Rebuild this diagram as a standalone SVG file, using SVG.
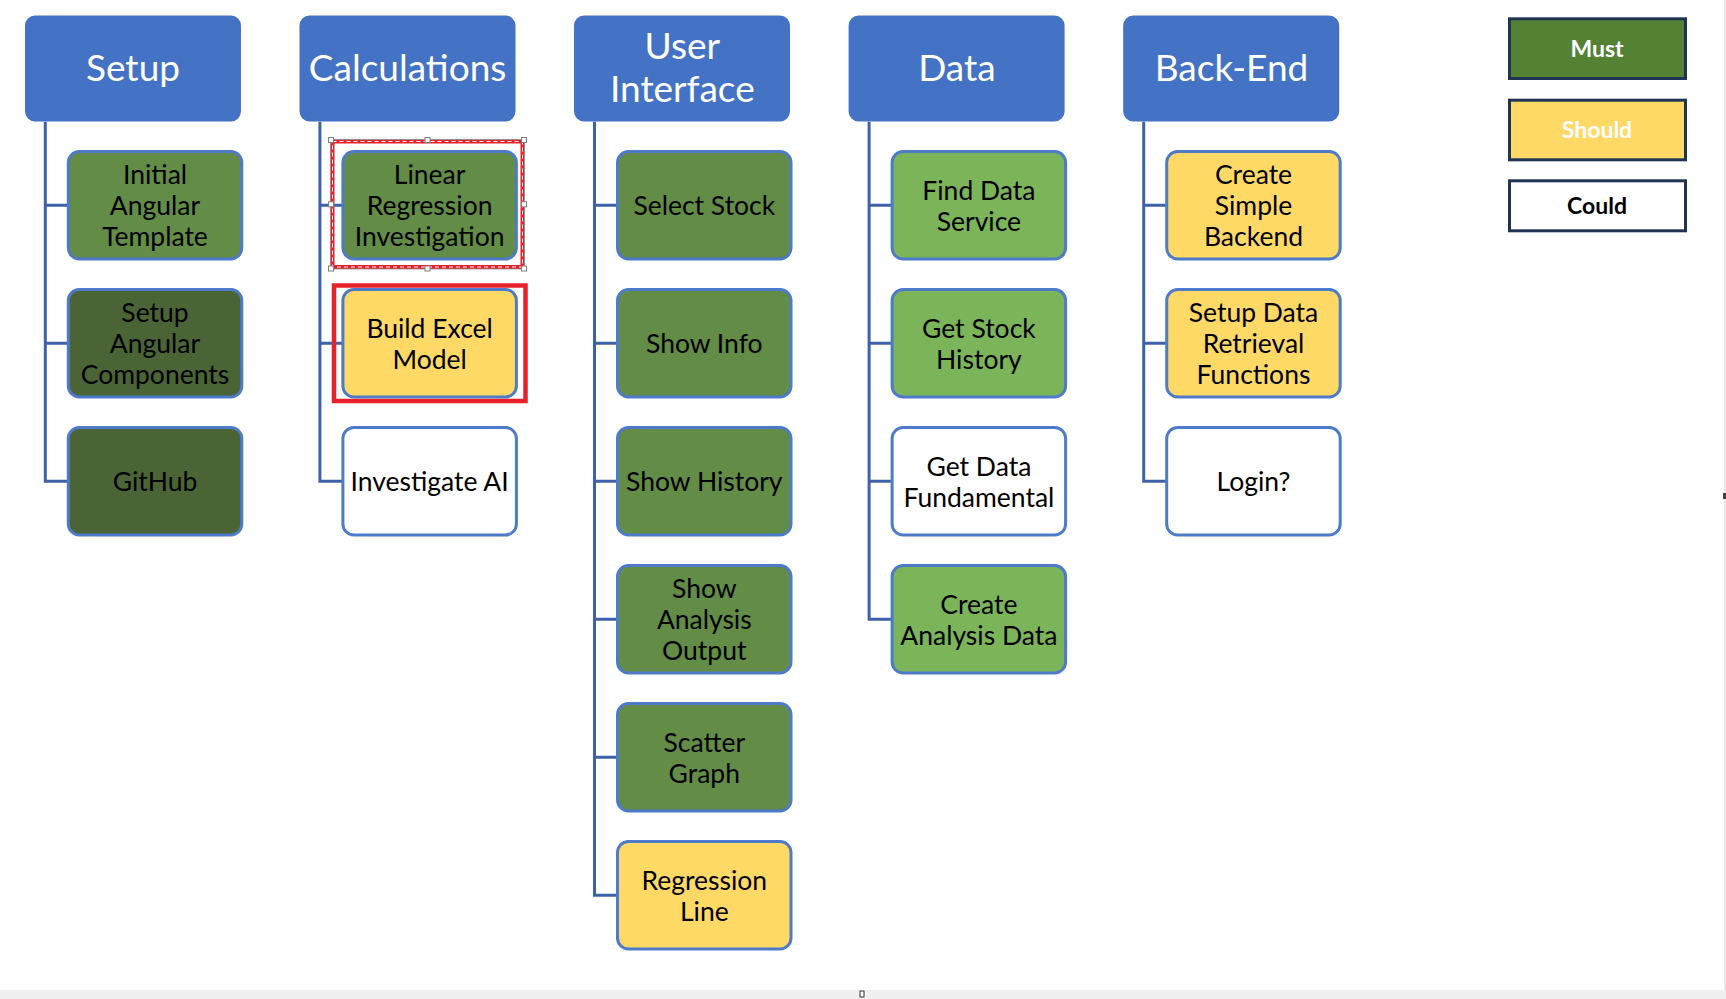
<svg xmlns="http://www.w3.org/2000/svg" width="1726" height="999" viewBox="0 0 1726 999">
<style>
.hdr{fill:#4472C4;}
.htx{font-family:Lato,"Liberation Sans",sans-serif;font-size:37px;fill:#FFFFFF;text-anchor:middle;}
.box{stroke:#4D7BC9;stroke-width:3;}
.mg{fill:#638C46;}
.dg{fill:#4B6436;}
.lg{fill:#7CB45A;}
.yl{fill:#FFD966;}
.wh{fill:#FFFFFF;}
.ctx{font-family:Lato,"Liberation Sans",sans-serif;font-size:26.5px;fill:#000000;text-anchor:middle;}
.con{fill:none;stroke:#3D62AA;stroke-width:3;}
.leg{stroke:#1F3455;stroke-width:3;}
.ltx{font-family:Lato,"Liberation Sans",sans-serif;font-size:23px;font-weight:bold;text-anchor:middle;}
.hdl{fill:#FFFFFF;stroke:#7F7F7F;stroke-width:1;}
</style>
<rect x="0" y="0" width="1726" height="999" fill="#FFFFFF"/>
<rect x="0" y="990" width="1726" height="9" fill="#F0F0F0"/>
<rect x="1724" y="0" width="2" height="990" fill="#E6E6E6"/>
<rect x="1723" y="493" width="3" height="6" fill="#444444"/>
<rect x="860" y="991" width="4" height="6" fill="#FFFFFF" stroke="#333333" stroke-width="1"/>

<g id="connectors">
<path class="con" d="M45.3,121.7 V481.3 H68 M45.3,205.3 H68 M45.3,343.3 H68"/>
<path class="con" d="M319.9,121.7 V481.3 H343 M319.9,205.3 H343 M319.9,343.3 H343"/>
<path class="con" d="M594.5,121.7 V895.3 H617 M594.5,205.3 H617 M594.5,343.3 H617 M594.5,481.3 H617 M594.5,619.3 H617 M594.5,757.3 H617"/>
<path class="con" d="M869.1,121.7 V619.3 H892 M869.1,205.3 H892 M869.1,343.3 H892 M869.1,481.3 H892"/>
<path class="con" d="M1143.7,121.7 V481.3 H1166 M1143.7,205.3 H1166 M1143.7,343.3 H1166"/>
</g>

<g id="hdr-setup"><rect class="hdr" x="25" y="15.5" width="216" height="106" rx="10"/><text class="htx" x="133" y="80.5">Setup</text></g>
<g id="hdr-calc"><rect class="hdr" x="299.5" y="15.5" width="216" height="106" rx="10"/><text class="htx" x="407.6" y="80.5">Calculations</text></g>
<g id="hdr-ui"><rect class="hdr" x="574" y="15.5" width="216" height="106" rx="10"/><text class="htx" x="682.3" y="58.5">User</text><text class="htx" x="682.3" y="101.5">Interface</text></g>
<g id="hdr-data"><rect class="hdr" x="848.6" y="15.5" width="216" height="106" rx="10"/><text class="htx" x="956.9" y="80.5">Data</text></g>
<g id="hdr-backend"><rect class="hdr" x="1123.2" y="15.5" width="216" height="106" rx="10"/><text class="htx" x="1231.5" y="80.5">Back-End</text></g>

<!-- Setup -->
<g id="n-initial"><rect class="box mg" x="68.3" y="151.5" width="173.5" height="107.5" rx="11"/><text class="ctx" x="155" y="183.5">Initial</text><text class="ctx" x="155" y="214.8">Angular</text><text class="ctx" x="155" y="246.1">Template</text></g>
<g id="n-setupang"><rect class="box dg" x="68.3" y="289.5" width="173.5" height="107.5" rx="11"/><text class="ctx" x="155" y="321.5">Setup</text><text class="ctx" x="155" y="352.8">Angular</text><text class="ctx" x="155" y="384.1">Components</text></g>
<g id="n-github"><rect class="box dg" x="68.3" y="427.5" width="173.5" height="107.5" rx="11"/><text class="ctx" x="155" y="490.8">GitHub</text></g>

<!-- Calculations -->
<g id="n-linreg"><rect class="box mg" x="342.9" y="151.5" width="173.5" height="107.5" rx="11"/><text class="ctx" x="429.6" y="183.5">Linear</text><text class="ctx" x="429.6" y="214.8">Regression</text><text class="ctx" x="429.6" y="246.1">Investigation</text></g>
<g id="n-excel"><rect class="box yl" x="342.9" y="289.5" width="173.5" height="107.5" rx="11"/><text class="ctx" x="429.6" y="337.5">Build Excel</text><text class="ctx" x="429.6" y="368.8">Model</text></g>
<g id="n-ai"><rect class="box wh" x="342.9" y="427.5" width="173.5" height="107.5" rx="11"/><text class="ctx" x="429.6" y="490.8">Investigate AI</text></g>

<!-- User Interface -->
<g id="n-select"><rect class="box mg" x="617.5" y="151.5" width="173.5" height="107.5" rx="11"/><text class="ctx" x="704.3" y="214.8">Select Stock</text></g>
<g id="n-info"><rect class="box mg" x="617.5" y="289.5" width="173.5" height="107.5" rx="11"/><text class="ctx" x="704.3" y="352.8">Show Info</text></g>
<g id="n-history"><rect class="box mg" x="617.5" y="427.5" width="173.5" height="107.5" rx="11"/><text class="ctx" x="704.3" y="490.8">Show History</text></g>
<g id="n-analysis"><rect class="box mg" x="617.5" y="565.5" width="173.5" height="107.5" rx="11"/><text class="ctx" x="704.3" y="597.5">Show</text><text class="ctx" x="704.3" y="628.8">Analysis</text><text class="ctx" x="704.3" y="660.1">Output</text></g>
<g id="n-scatter"><rect class="box mg" x="617.5" y="703.5" width="173.5" height="107.5" rx="11"/><text class="ctx" x="704.3" y="751.5">Scatter</text><text class="ctx" x="704.3" y="782.8">Graph</text></g>
<g id="n-regline"><rect class="box yl" x="617.5" y="841.5" width="173.5" height="107.5" rx="11"/><text class="ctx" x="704.3" y="889.5">Regression</text><text class="ctx" x="704.3" y="920.8">Line</text></g>

<!-- Data -->
<g id="n-finddata"><rect class="box lg" x="892.1" y="151.5" width="173.5" height="107.5" rx="11"/><text class="ctx" x="978.9" y="199.5">Find Data</text><text class="ctx" x="978.9" y="230.8">Service</text></g>
<g id="n-stockhist"><rect class="box lg" x="892.1" y="289.5" width="173.5" height="107.5" rx="11"/><text class="ctx" x="978.9" y="337.5">Get Stock</text><text class="ctx" x="978.9" y="368.8">History</text></g>
<g id="n-fund"><rect class="box wh" x="892.1" y="427.5" width="173.5" height="107.5" rx="11"/><text class="ctx" x="978.9" y="475.5">Get Data</text><text class="ctx" x="978.9" y="506.8">Fundamental</text></g>
<g id="n-createan"><rect class="box lg" x="892.1" y="565.5" width="173.5" height="107.5" rx="11"/><text class="ctx" x="978.9" y="613.5">Create</text><text class="ctx" x="978.9" y="644.8">Analysis Data</text></g>

<!-- Back-End -->
<g id="n-simple"><rect class="box yl" x="1166.7" y="151.5" width="173.5" height="107.5" rx="11"/><text class="ctx" x="1253.5" y="183.5">Create</text><text class="ctx" x="1253.5" y="214.8">Simple</text><text class="ctx" x="1253.5" y="246.1">Backend</text></g>
<g id="n-retrieval"><rect class="box yl" x="1166.7" y="289.5" width="173.5" height="107.5" rx="11"/><text class="ctx" x="1253.5" y="321.5">Setup Data</text><text class="ctx" x="1253.5" y="352.8">Retrieval</text><text class="ctx" x="1253.5" y="384.1">Functions</text></g>
<g id="n-login"><rect class="box wh" x="1166.7" y="427.5" width="173.5" height="107.5" rx="11"/><text class="ctx" x="1253.5" y="490.8">Login?</text></g>

<!-- highlight boxes -->
<g id="sel-linreg">
<rect x="332.5" y="141.5" width="190" height="125.5" fill="none" stroke="#E8202A" stroke-width="4"/>
<rect x="332.5" y="141.5" width="190" height="125.5" fill="none" stroke="#FFFFFF" stroke-width="1" stroke-dasharray="4 3"/>
<rect x="330.5" y="139.5" width="194" height="129.5" fill="none" stroke="#8C8C8C" stroke-width="0.8"/>
<rect class="hdl" x="328.5" y="137.5" width="5" height="5"/>
<rect class="hdl" x="425" y="137.5" width="5" height="5"/>
<rect class="hdl" x="521.5" y="137.5" width="5" height="5"/>
<rect class="hdl" x="328.5" y="201.8" width="5" height="5"/>
<rect class="hdl" x="521.5" y="201.8" width="5" height="5"/>
<rect class="hdl" x="328.5" y="266" width="5" height="5"/>
<rect class="hdl" x="425" y="266" width="5" height="5"/>
<rect class="hdl" x="521.5" y="266" width="5" height="5"/>
</g>
<g id="hl-excel"><rect x="334" y="285.5" width="191.5" height="115.5" fill="none" stroke="#E8202A" stroke-width="4.5"/></g>

<!-- legend -->
<g id="leg-must"><rect class="leg" x="1509.5" y="18.8" width="176" height="59.7" fill="#548235"/><text class="ltx" x="1597" y="57" fill="#FFFFFF">Must</text></g>
<g id="leg-should"><rect class="leg" x="1509.5" y="100.2" width="176" height="59.6" fill="#FFD966"/><text class="ltx" x="1597" y="138.3" fill="#FFFFFF">Should</text></g>
<g id="leg-could"><rect class="leg" x="1509.5" y="180.8" width="176" height="50" fill="#FFFFFF"/><text class="ltx" x="1597" y="214" fill="#000000">Could</text></g>
</svg>
